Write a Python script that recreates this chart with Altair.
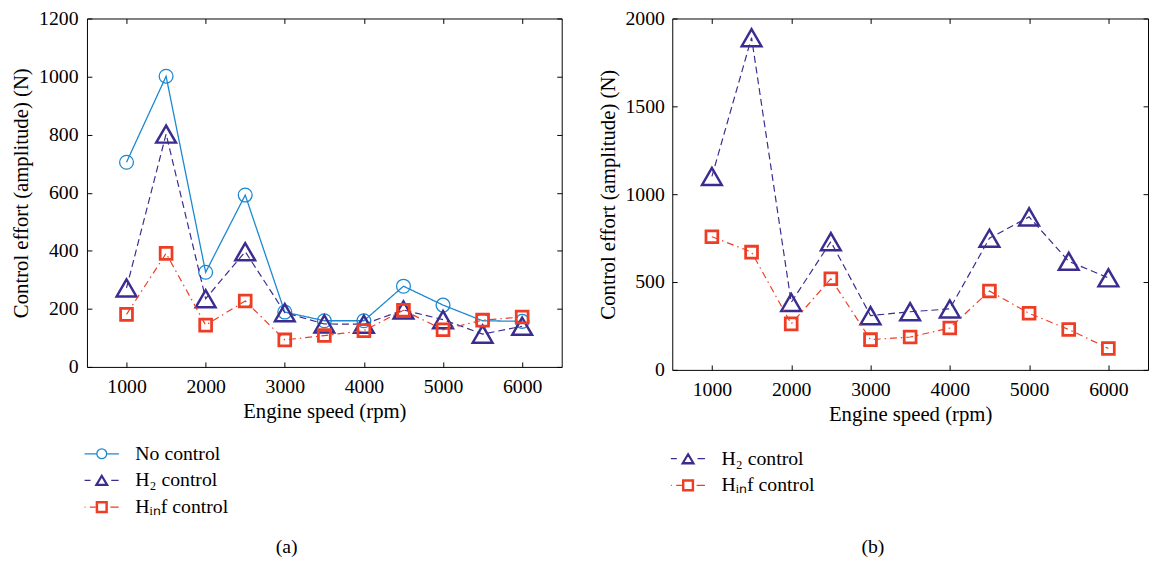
import altair as alt
import pandas as pd

# ---------------- data ----------------
speeds = [1000, 1500, 2000, 2500, 3000, 3500, 4000, 4500, 5000, 5500, 6000]

a_no_control = [705, 1001, 326, 592, 189, 159, 159, 278, 213, 159, 157]
a_h2_control = [272, 802, 235, 397, 187, 148, 147, 196, 163, 113, 140]
a_hinf_control = [181, 391, 144, 227, 93, 108, 125, 195, 128, 161, 172]

b_h2_control = [1101, 1891, 384, 730, 309, 331, 347, 749, 871, 618, 524]
b_hinf_control = [758, 670, 262, 519, 172, 187, 238, 449, 322, 230, 122]

x_ticks = [1000, 2000, 3000, 4000, 5000, 6000]
a_y_ticks = [0, 200, 400, 600, 800, 1000, 1200]
b_y_ticks = [0, 500, 1000, 1500, 2000]

NO = "No control"
H2 = "H₂ control"
HINF = "Hᵢₙf control"

# ---------------- styles ----------------
FONT = "'Liberation Serif', 'Times New Roman', Times, serif"
STYLE = {
    NO: dict(color="#1b88d0", dash=[1, 0], lw=1.3, shape="circle", size=196, sw=1.3,
             legend_path="M-2.9,0H-0.83M0.83,0H2.9M0.83,0A0.83,0.83,0,1,1,-0.83,0A0.83,0.83,0,1,1,0.83,0"),
    H2: dict(color="#3a2d8f", dash=[7, 4], lw=1.2, shape="triangle-up", size=400, sw=2.5,
             legend_path="M-2.9,0H-1.9M1.6,0H2.85M0,-0.9L1.05,0.85L-1.05,0.85ZM0,-0.62L0.76,0.66L-0.76,0.66Z"),
    HINF: dict(color="#ee3d25", dash=[7, 4, 1.5, 4], lw=1.2, shape="square", size=144, sw=2.8,
               legend_path="M-2.9,0H-2.75M-2.0,0H-1.05M1.45,0H2.85M-0.92,-0.92H0.92V0.92H-0.92ZM-0.72,-0.72H0.72V0.72H-0.72Z"),
}


def long_df(cols):
    rows = []
    for name, vals in cols:
        for s, v in zip(speeds, vals):
            rows.append({"series": name, "speed": s, "value": v})
    return pd.DataFrame(rows)


def panel(df, names, x_domain, y_domain, y_ticks, width, height,
          label_pad_x, title_pad_x, label_pad_y, title_pad_y,
          legend_x, legend_y, title_text, title_offset):
    xs = alt.Scale(domain=x_domain, nice=False, zero=False)
    ys = alt.Scale(domain=y_domain, nice=False, zero=False)

    main_x = alt.Axis(orient="bottom", values=x_ticks, ticks=False, domain=False, grid=False,
                      labelPadding=label_pad_x, title="Engine speed (rpm)", titlePadding=title_pad_x,
                      format="d")
    main_y = alt.Axis(orient="left", values=y_ticks, ticks=False, domain=False, grid=False,
                      labelPadding=label_pad_y, title="Control effort (amplitude) (N)",
                      titlePadding=title_pad_y, format="d")

    layers = []
    first = True
    for name in names:
        st = STYLE[name]
        sub = alt.Chart(df).transform_filter(alt.datum.series == name)
        line = sub.mark_line(color=st["color"], strokeWidth=st["lw"], strokeDash=st["dash"]).encode(
            x=alt.X("speed:Q", scale=xs, axis=main_x if first else None),
            y=alt.Y("value:Q", scale=ys, axis=main_y if first else None),
        )
        pts = sub.mark_point(shape=st["shape"], size=st["size"], filled=False, color=st["color"],
                             strokeWidth=st["sw"], opacity=1).encode(
            x=alt.X("speed:Q", scale=xs, axis=None),
            y=alt.Y("value:Q", scale=ys, axis=None),
        )
        layers += [line, pts]
        first = False

    tick_common = dict(labels=False, title=None, domain=False, grid=False, ticks=True,
                       tickSize=5, tickColor="black", tickWidth=1)
    # inward ticks at bottom and left
    ticks_a = alt.Chart(df).mark_point(opacity=0).encode(
        x=alt.X("speed:Q", scale=xs, axis=alt.Axis(orient="top", offset=-height, values=x_ticks, **tick_common)),
        y=alt.Y("value:Q", scale=ys, axis=alt.Axis(orient="right", offset=-width, values=y_ticks, **tick_common)),
    )
    # inward ticks at top and right
    ticks_b = alt.Chart(df).mark_point(opacity=0).encode(
        x=alt.X("speed:Q", scale=xs, axis=alt.Axis(orient="bottom", offset=-height, values=x_ticks, **tick_common)),
        y=alt.Y("value:Q", scale=ys, axis=alt.Axis(orient="left", offset=-width, values=y_ticks, **tick_common)),
    )

    leg = alt.Legend(orient="none", legendX=legend_x, legendY=legend_y, title=None,
                     labelFont=FONT, labelFontSize=20, labelColor="black", labelOffset=24,
                     symbolSize=144, symbolStrokeWidth=1.3, rowPadding=7, padding=0,
                     labelLimit=300)
    legend_layer = alt.Chart(df).transform_filter("false").mark_point(filled=False, opacity=1).encode(
        color=alt.Color("series:N", scale=alt.Scale(domain=names, range=[STYLE[n]["color"] for n in names]),
                        legend=leg),
        shape=alt.Shape("series:N", scale=alt.Scale(domain=names, range=[STYLE[n]["legend_path"] for n in names]),
                        legend=leg),
    )

    return alt.layer(*layers, ticks_a, ticks_b, legend_layer).resolve_axis(
        x="independent", y="independent"
    ).properties(
        width=width, height=height,
        title=alt.TitleParams(title_text, orient="bottom", anchor="middle", frame="bounds",
                              font=FONT, fontSize=20, fontWeight="normal", color="black",
                              offset=title_offset),
    )


df_a = long_df([(NO, a_no_control), (H2, a_h2_control), (HINF, a_hinf_control)])
df_b = long_df([(H2, b_h2_control), (HINF, b_hinf_control)])

left = panel(df_a, [NO, H2, HINF], [500, 6500], [0, 1200], a_y_ticks, 481, 353,
             label_pad_x=10, title_pad_x=4, label_pad_y=9, title_pad_y=7,
             legend_x=5, legend_y=431, title_text="(a)", title_offset=21)
right = panel(df_b, [H2, HINF], [500, 6500], [0, 2000], b_y_ticks, 482, 356,
              label_pad_x=10, title_pad_x=4, label_pad_y=8, title_pad_y=7,
              legend_x=6, legend_y=436, title_text="(b)", title_offset=43)

chart = alt.hconcat(left, right, spacing=34).resolve_scale(
    color="independent", shape="independent"
).configure(
    padding={"left": 2, "top": -4, "right": 0, "bottom": 0}, background="white"
).configure_view(
    stroke="black", strokeWidth=1
).configure_axis(
    labelFont=FONT, titleFont=FONT, labelFontSize=20, titleFontSize=21,
    titleFontWeight="normal", labelColor="black", titleColor="black", grid=False,
)

chart.save("out.html", embed_options={"renderer": "svg", "actions": False})
